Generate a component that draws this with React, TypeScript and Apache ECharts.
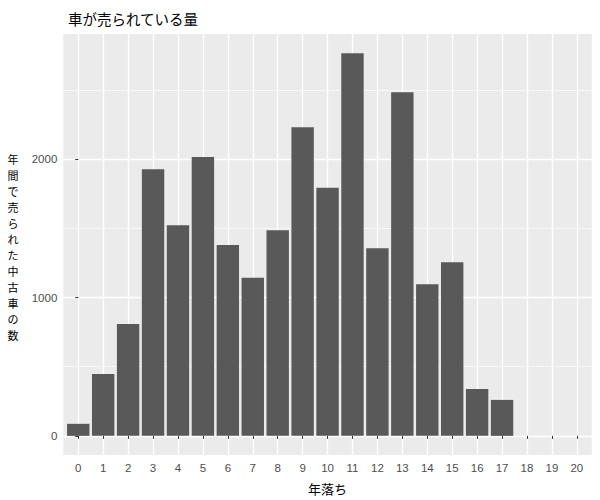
import React, { useEffect, useRef } from "react";
import * as echarts from "echarts";

const years = [0, 1, 2, 3, 4, 5, 6, 7, 8, 9, 10, 11, 12, 13, 14, 15, 16, 17, 18, 19, 20];
const counts = [87, 448, 809, 1928, 1523, 2017, 1379, 1143, 1487, 2231, 1794, 2767, 1357, 2484, 1097, 1256, 339, 260];
const yTicks = [0, 1000, 2000];
const yMinorTicks = [500, 1500, 2500];
const titleText = "車が売られている量";
const xTitle = "年落ち";
const yTitle = "年間で売られた中古車の数";

const JP = "'Noto Sans CJK JP', 'Noto Sans', sans-serif";
const NUM = "'Liberation Sans', Arial, sans-serif";

export default function App() {
  const ref = useRef<HTMLDivElement>(null);
  useEffect(() => {
    if (!ref.current) return;
    const chart = echarts.init(ref.current, null, { renderer: "svg" });
    const yMax = Math.max(...counts);
    const pad = yMax * 0.05;
    const yMin = -pad;
    const yTop = yMax + pad;
    const yTitleChars = yTitle.split("").map((ch, i) => ({
      type: "text",
      x: 13,
      y: 159 + i * 16,
      style: {
        text: ch,
        fontFamily: JP,
        fontSize: 11,
        fill: "#000000",
        textAlign: "center",
        textVerticalAlign: "middle",
      },
    }));
    chart.setOption({
      animation: false,
      backgroundColor: "#ffffff",
      title: {
        text: titleText,
        left: 63,
        top: 6,
        textStyle: { fontFamily: JP, fontSize: 14.5, fontWeight: "normal", color: "#000000" },
      },
      grid: {
        left: 63.3,
        right: 8.2,
        top: 34,
        bottom: 45,
        show: true,
        backgroundColor: "#EBEBEB",
        borderWidth: 0,
        containLabel: false,
      },
      xAxis: {
        type: "value",
        min: -0.6,
        max: years[years.length - 1] + 0.6,
        axisLine: { show: false },
        axisTick: { show: true, customValues: years, length: 3, lineStyle: { color: "#333333", width: 1 } },
        axisLabel: {
          customValues: years,
          formatter: (v: number) => String(v),
          color: "#4D4D4D",
          fontSize: 11.5,
          margin: 7,
          fontFamily: NUM,
        },
        splitLine: { show: true, lineStyle: { color: "#ffffff", width: 1.3 } },
      },
      yAxis: [
        {
          type: "value",
          min: yMin,
          max: yTop,
          position: "left",
          axisLine: { show: false },
          axisTick: { show: true, customValues: yTicks, length: 3, lineStyle: { color: "#333333", width: 1 } },
          axisLabel: {
            customValues: yTicks,
            formatter: (v: number) => String(v),
            color: "#4D4D4D",
            fontSize: 11.5,
            margin: 6,
            fontFamily: NUM,
          },
          splitLine: { show: true, lineStyle: { color: "#ffffff", width: 1.3 } },
        },
        {
          type: "value",
          min: yMin,
          max: yTop,
          position: "left",
          axisLine: { show: false },
          axisTick: { show: false, customValues: yMinorTicks },
          axisLabel: { show: false, customValues: yMinorTicks },
          splitLine: { show: true, lineStyle: { color: "#ffffff", width: 0.6 } },
        },
      ],
      series: [
        {
          type: "bar",
          yAxisIndex: 0,
          data: counts.map((c, i) => [years[i], c]),
          barWidth: 22.4,
          itemStyle: { color: "#595959" },
        },
      ],
      graphic: [
        ...yTitleChars,
        {
          type: "text",
          x: 327.5,
          y: 488,
          style: {
            text: xTitle,
            fontFamily: JP,
            fontSize: 13,
            fill: "#000000",
            textAlign: "center",
            textVerticalAlign: "middle",
          },
        },
      ],
    });
    return () => chart.dispose();
  }, []);
  return <div ref={ref} style={{ position: "fixed", left: 0, top: 0, width: 600, height: 500 }} />;
}
